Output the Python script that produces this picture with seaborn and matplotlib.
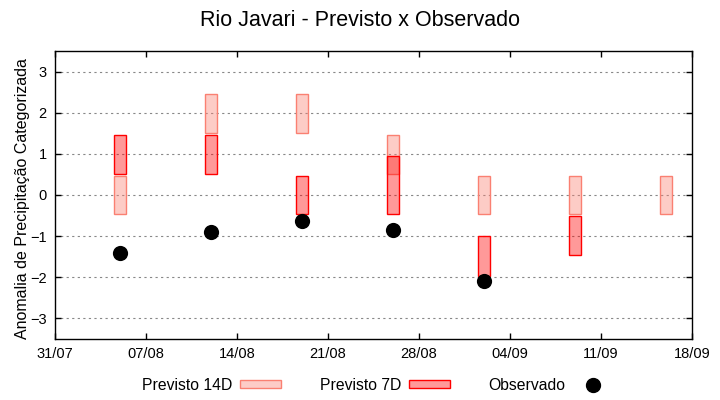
import pandas as pd
import seaborn as sns
import matplotlib.pyplot as plt
import matplotlib.dates as mdates
from matplotlib.patches import Patch
from matplotlib.lines import Line2D

# weekly forecast categories (bottom/top of each interval) and observed anomaly
semanas = ["2024-08-05", "2024-08-12", "2024-08-19", "2024-08-26",
           "2024-09-02", "2024-09-09", "2024-09-16"]
prev14_low = [-0.45, 1.5, 1.5, 0.5, -0.45, -0.45, -0.45]
prev14_high = [0.45, 2.45, 2.45, 1.45, 0.45, 0.45, 0.45]
prev7_low = [0.5, 0.5, -0.45, -0.45, -1.97, -1.45, None]
prev7_high = [1.45, 1.45, 0.45, 0.95, -1.0, -0.52, None]
observado = [-1.42, -0.91, -0.62, -0.86, -2.1, None, None]

df = pd.DataFrame({
    "data": pd.to_datetime(semanas),
    "p14_low": prev14_low, "p14_high": prev14_high,
    "p7_low": prev7_low, "p7_high": prev7_high,
    "obs": observado,
}).astype({"p7_low": float, "p7_high": float, "obs": float})

sns.set_style("ticks")
plt.rcParams['font.family'] = ['Liberation Sans', 'DejaVu Sans']
plt.rcParams['text.color'] = 'black'
plt.rcParams['axes.labelcolor'] = 'black'

fig = plt.figure(figsize=(7.2, 4), dpi=100)
ax = fig.add_axes([55 / 720, 1 - 339 / 400, 637 / 720, 288 / 400])

largura = 0.93
ax.bar(df["data"], df["p14_high"] - df["p14_low"], bottom=df["p14_low"], width=largura,
       color="salmon", alpha=0.4, linewidth=0, zorder=2)
ax.bar(df["data"], df["p14_high"] - df["p14_low"], bottom=df["p14_low"], width=largura,
       fill=False, edgecolor="salmon", linewidth=1.0, zorder=2)
d7 = df.dropna(subset=["p7_low"])
ax.bar(d7["data"], d7["p7_high"] - d7["p7_low"], bottom=d7["p7_low"], width=largura,
       color="red", alpha=0.4, linewidth=0, zorder=3)
ax.bar(d7["data"], d7["p7_high"] - d7["p7_low"], bottom=d7["p7_low"], width=largura,
       fill=False, edgecolor="red", linewidth=1.0, zorder=3)

sns.scatterplot(data=df.dropna(subset=["obs"]), x="data", y="obs", ax=ax,
                color="black", s=120, edgecolor="black", linewidth=0, zorder=4, legend=False)

ax.set_xlim(pd.Timestamp("2024-07-31"), pd.Timestamp("2024-09-18"))
ax.set_ylim(-3.5, 3.5)
ax.set_xticks(pd.date_range("2024-07-31", "2024-09-18", freq="7D"))
ax.xaxis.set_major_formatter(mdates.DateFormatter("%d/%m"))
ax.set_yticks([-3, -2, -1, 0, 1, 2, 3])
ax.yaxis.grid(True, linestyle=(0, (2, 3)), color="#888888", linewidth=0.8)
ax.set_axisbelow(True)
ax.tick_params(direction="in", length=4, width=1, top=True, right=True,
               labelsize=10.5, colors="black", pad=6)
for s in ax.spines.values():
    s.set_color("black")
    s.set_linewidth(1)

ax.set_xlabel("")
ax.set_ylabel("Anomalia de Precipitação Categorizada", fontsize=11.5)
ax.yaxis.set_label_coords(-0.039, 0.486)
fig.text(0.5, 0.95, "Rio Javari - Previsto x Observado", ha="center", va="center", fontsize=15.5)

handles = [
    Patch(facecolor="#fdccc7", edgecolor="salmon", linewidth=1.0),
    Patch(facecolor="#ff9999", edgecolor="red", linewidth=1.0),
    Line2D([], [], marker="o", color="black", linestyle="", markersize=10),
]
fig.legend(handles, ["Previsto 14D", "Previsto 7D", "Observado"], ncol=3,
           loc="center", bbox_to_anchor=(378 / 720, 1 - 385 / 400), frameon=False,
           markerfirst=False, handlelength=2.6, handleheight=0.4, handletextpad=0.5,
           columnspacing=2.45, fontsize=11.3)

fig.savefig("out.png", dpi=100)
